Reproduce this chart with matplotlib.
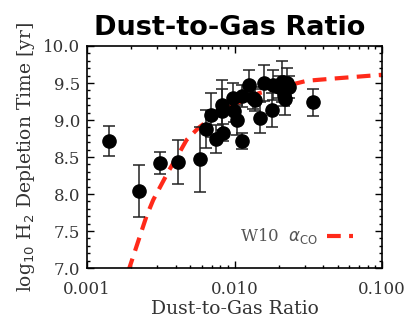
"""
Dust-to-gas ratio vs. H2 depletion time, with the W10 alpha_CO model curve.
"""
import matplotlib
matplotlib.use('Agg')
import matplotlib.pyplot as plt
from matplotlib.ticker import MultipleLocator, FixedLocator, FuncFormatter, LogLocator, NullFormatter

dgr = [0.00141, 0.00225, 0.00312, 0.00411, 0.00583, 0.0064, 0.00689, 0.0075,
       0.00818, 0.0082, 0.00836, 0.00973, 0.0099, 0.01035, 0.0112, 0.0112,
       0.0126, 0.0134, 0.0138, 0.0149, 0.0158, 0.0179, 0.0182, 0.0199,
       0.0209, 0.0215, 0.022, 0.0228, 0.0235, 0.034]
log_tdep = [8.72, 8.04, 8.42, 8.43, 8.47, 8.88, 9.07, 8.74,
            9.20, 9.12, 8.83, 9.30, 9.12, 9.00, 8.72, 9.32,
            9.47, 9.30, 9.27, 9.03, 9.50, 9.14, 9.47, 9.45,
            9.52, 9.34, 9.29, 9.50, 9.45, 9.24]
log_tdep_err = [0.20, 0.35, 0.15, 0.30, 0.44, 0.26, 0.30, 0.19,
                0.34, 0.30, 0.12, 0.20, 0.15, 0.20, 0.11, 0.15,
                0.21, 0.15, 0.15, 0.21, 0.24, 0.23, 0.20, 0.15,
                0.28, 0.15, 0.22, 0.20, 0.15, 0.18]

# W10 alpha_CO model curve
model_dgr = [0.00190, 0.00253, 0.00281, 0.00355, 0.00415, 0.00473, 0.00567,
             0.0072, 0.0093, 0.0145, 0.0245, 0.0309, 0.0469, 0.098, 0.1]
model_tdep = [6.95, 7.70, 7.92, 8.30, 8.53, 8.73, 8.89,
              9.05, 9.18, 9.36, 9.48, 9.53, 9.56, 9.61, 9.61]

x_ticks = [0.001, 0.01, 0.1]

serif = 'DejaVu Serif'
text_col = '#333333'

fig = plt.figure(figsize=(4.06, 3.21), dpi=100)
ax = fig.add_axes([0.2143, 0.165, 0.7267, 0.6917])

# model line first, points on top
ax.plot(model_dgr, model_tdep, color='#ff2a1a', linewidth=3.0,
        dashes=(3.3, 2.0), solid_capstyle='butt', dash_capstyle='butt',
        label=r'W10  $\alpha_{\rm CO}$', zorder=2)
ax.errorbar(dgr, log_tdep, yerr=log_tdep_err, fmt='o', color='black',
            markersize=9.5, ecolor='#222222', elinewidth=1.1, capsize=4,
            capthick=1.1, zorder=3)

ax.set_xscale('log')
ax.set_xlim(0.001, 0.1)
ax.set_ylim(7.0, 10.0)

ax.xaxis.set_major_locator(FixedLocator(x_ticks))
ax.xaxis.set_major_formatter(FuncFormatter(lambda v, p: f'{v:.3f}'))
ax.xaxis.set_minor_locator(LogLocator(base=10, subs=range(2, 10)))
ax.xaxis.set_minor_formatter(NullFormatter())
ax.yaxis.set_major_locator(MultipleLocator(0.5))
ax.yaxis.set_minor_locator(MultipleLocator(0.1))
ax.yaxis.set_major_formatter(FuncFormatter(lambda v, p: f'{v:.1f}'))

ax.tick_params(which='both', direction='in', top=True, right=True,
               width=1.0, color='black')
ax.tick_params(which='major', length=5)
ax.tick_params(which='minor', length=2.5)
ax.tick_params(axis='x', which='major', pad=9, labelsize=12, labelcolor=text_col)
ax.tick_params(axis='y', which='major', pad=5, labelsize=12, labelcolor=text_col)
for lbl in ax.get_xticklabels() + ax.get_yticklabels():
    lbl.set_family(serif)
for sp in ax.spines.values():
    sp.set_linewidth(1.2)

ax.set_xlabel('Dust-to-Gas Ratio', fontsize=13.5, family=serif, color=text_col,
              labelpad=2)
ax.set_ylabel(r'log$_{10}$ H$_2$ Depletion Time [yr]', fontsize=13.5,
              family=serif, color=text_col, labelpad=4)

leg = ax.legend(loc='lower right', bbox_to_anchor=(0.976, 0.0),
                frameon=False, markerfirst=False,
                handlelength=1.6, handletextpad=0.5, borderaxespad=0.9,
                prop={'family': serif, 'size': 12})
for t in leg.get_texts():
    t.set_color('#555555')

fig.text(0.565, 1 - 35 / 321, 'Dust-to-Gas Ratio', ha='center', va='baseline',
         fontsize=19.5, fontweight='bold', family='DejaVu Sans')

fig.savefig('out.png', dpi=100)
